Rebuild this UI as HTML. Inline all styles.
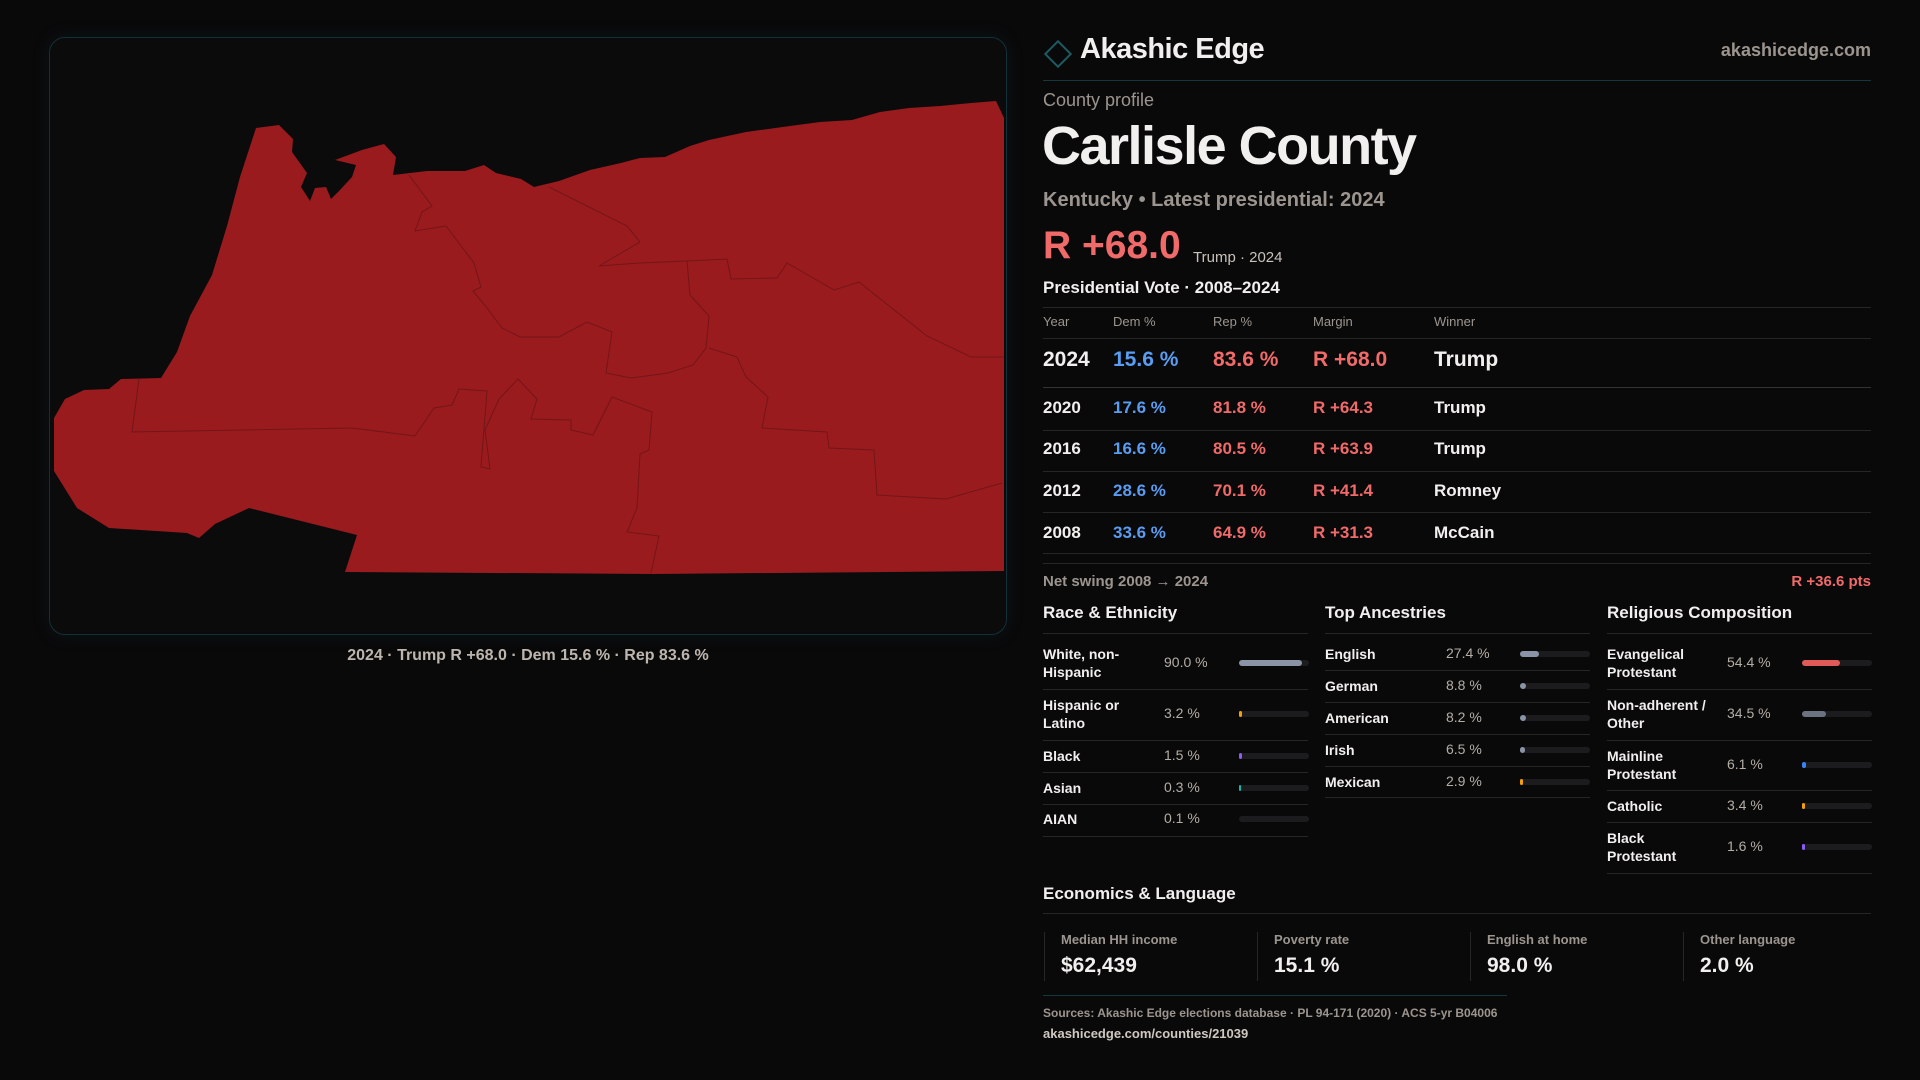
<!DOCTYPE html>
<html><head><meta charset="utf-8">
<style>
*{margin:0;padding:0;box-sizing:border-box}
body{width:1920px;height:1080px;background:#0a090a;font-family:"Liberation Sans",sans-serif;color:#f2f0ee;position:relative;overflow:hidden}
.a{position:absolute;white-space:nowrap}
.g{color:#9c958f}
.line{position:absolute;height:1px;background:#262626}
.hdr{font-size:13px;color:#9c958f}
.row{font-size:17px;font-weight:bold}
.dem{color:#5a9cf2}.rep{color:#f06a6a}
.sec{font-size:17px;font-weight:bold}
.lbl{font-size:14px;font-weight:bold;line-height:18px}
.val{font-size:14px;color:#b4ada6}
.card{position:absolute;top:932px;height:49px;border-left:1px solid #262626}
</style></head><body>
<div class="a" style="left:49px;top:37px;width:958px;height:598px;border:1px solid #123038;border-radius:16px;background:#0b0b0c;box-shadow:0 0 18px rgba(20,80,100,0.15)"></div>
<svg class="a" style="left:0;top:0" width="1010" height="640">
<polygon fill="#991b1e" points="256,128 279,125 293,139 292,152 307,173 301,187 310,201 315,188 326,187 331,199 339,191 352,177 356,165 335,160 362,150 384,144 396,157 393,175 427,171 465,171 484,165 496,173 521,179 534,187 559,181 590,170 621,163 640,158 665,157 690,146 709,140 746,132 790,126 820,122 852,120 880,112 909,108 940,106 971,103 996,101 1004,118 1004,571 652,574 345,572 357,535 249,508 215,524 199,538 187,533 109,528 77,508 54,471 54,418 65,399 84,390 109,389 121,379 161,378 177,352 190,316 212,275 227,226 240,177"/>
<g fill="none" stroke="#741518" stroke-width="1">
<polyline points="409,175 432,206 422,212 415,231 446,226 474,263 481,287 473,291 487,308 502,328 520,337 559,337 587,322 612,332 606,373 631,378 668,373 693,365 706,348 709,316 690,295 687,261 640,263 599,266 640,242 627,226 549,187"/>
<polyline points="687,261 727,259 731,279 777,278 787,263 834,290 859,282 927,336 971,357 1004,357"/>
<polyline points="709,348 737,357 746,377 768,397 762,428 827,432 829,448 874,450 877,495 946,499 1002,483"/>
<polyline points="139,379 132,432 352,428 415,436 434,408 452,405 459,389 487,391 481,467 490,469 485,430 499,399 518,379 537,399 531,419 571,420 571,430 593,435 612,397 652,412 649,450 640,454 637,508 627,532 659,536 651,573"/>
</g></svg>
<div class="a" style="left:0;width:1056px;text-align:center;top:647px;font-size:16px;font-weight:bold;color:#bdb6af">2024 · Trump R +68.0 · Dem 15.6 % · Rep 83.6 %</div>

<div class="a" style="left:1048px;top:44px;width:20px;height:20px;border:2px solid #1d5a62;transform:rotate(45deg)"></div>
<div class="a" style="left:1080px;top:33px;font-size:29px;font-weight:bold;letter-spacing:-0.5px">Akashic Edge</div>
<div class="a g" style="right:49px;top:40px;font-size:18px;font-weight:bold">akashicedge.com</div>
<div class="line" style="left:1043px;width:828px;top:80px;background:#15383f"></div>
<div class="a g" style="left:1043px;top:90px;font-size:18px">County profile</div>
<div class="a" style="left:1042px;top:115px;font-size:54px;font-weight:bold;letter-spacing:-1.5px">Carlisle County</div>
<div class="a g" style="left:1043px;top:189px;font-size:20px;font-weight:bold">Kentucky • Latest presidential: 2024</div>
<div class="a rep" style="left:1043px;top:224px;font-size:39px;font-weight:bold">R +68.0</div>
<div class="a" style="left:1193px;top:249px;font-size:15px;color:#c9c2bb">Trump · 2024</div>
<div class="a" style="left:1043px;top:278px;font-size:17px;font-weight:bold">Presidential Vote · 2008–2024</div>
<div class="line" style="left:1043px;width:828px;top:307px"></div>
<div class="a hdr" style="left:1043px;top:314px">Year</div>
<div class="a hdr" style="left:1113px;top:314px">Dem %</div>
<div class="a hdr" style="left:1213px;top:314px">Rep %</div>
<div class="a hdr" style="left:1313px;top:314px">Margin</div>
<div class="a hdr" style="left:1434px;top:314px">Winner</div>
<div class="line" style="left:1043px;width:828px;top:338px"></div>
<div id="rows"></div>
<div class="line" style="left:1043px;width:828px;top:563px"></div>
<div class="a g" style="left:1043px;top:573px;font-size:15px;font-weight:bold">Net swing 2008 → 2024</div>
<div class="a rep" style="right:49px;top:573px;font-size:15px;font-weight:bold">R +36.6 pts</div>
<div id="sections"></div>
<div class="a sec" style="left:1043px;top:884px">Economics &amp; Language</div>
<div class="line" style="left:1043px;width:828px;top:913px"></div>
<div id="cards"></div>
<div class="line" style="left:1043px;width:464px;top:995px;background:#15383f"></div>
<div class="a g" style="left:1043px;top:1006px;font-size:12px;font-weight:bold">Sources: Akashic Edge elections database · PL 94-171 (2020) · ACS 5-yr B04006</div>
<div class="a" style="left:1043px;top:1026px;font-size:13px;font-weight:bold;color:#cfc8c1">akashicedge.com/counties/21039</div>
<script>
const years=["2024","2020","2016","2012","2008"];
const demPct=[15.6,17.6,16.6,28.6,33.6];
const repPct=[83.6,81.8,80.5,70.1,64.9];
const marginVals=[68.0,64.3,63.9,41.4,31.3];
const winners=["Trump","Trump","Trump","Romney","McCain"];
const raceLabels=["White, non-<br>Hispanic","Hispanic or<br>Latino","Black","Asian","AIAN"];
const raceValues=[90.0,3.2,1.5,0.3,0.1];
const ancLabels=["English","German","American","Irish","Mexican"];
const ancValues=[27.4,8.8,8.2,6.5,2.9];
const relLabels=["Evangelical<br>Protestant","Non-adherent /<br>Other","Mainline<br>Protestant","Catholic","Black<br>Protestant"];
const relValues=[54.4,34.5,6.1,3.4,1.6];
const econLabels=["Median HH income","Poverty rate","English at home","Other language"];
const econValues=["$62,439","15.1 %","98.0 %","2.0 %"];

const rowsEl=document.getElementById('rows');
const rowCenters=[361,408,449,491,533];
const rowLines=[387,430,471,512,553];
years.forEach((y,i)=>{
  const big=i===0; const fs=big?21:17; const top=rowCenters[i]-fs*0.6;
  const cells=[[y,1043,''],[demPct[i].toFixed(1)+' %',1113,'dem'],[repPct[i].toFixed(1)+' %',1213,'rep'],['R +'+marginVals[i].toFixed(1),1313,'rep'],[winners[i],1434,'']];
  cells.forEach((c,j)=>{const d=document.createElement('div');
    d.className='a row '+c[2];d.style.left=c[1]+'px';d.style.top=top+'px';d.style.fontSize=fs+'px';d.textContent=c[0];
    
    
    rowsEl.appendChild(d);});
  const l=document.createElement('div');l.className='line';l.style.left='1043px';l.style.width='828px';l.style.top=rowLines[i]+'px';
  if(big)l.style.background='#333';
  
  
  rowsEl.appendChild(l);
});

const secEl=document.getElementById('sections');
function section(title,x,labels,values,colors,centers,seps,valX,barX,key){
  const t=document.createElement('div');t.className='a sec';t.style.left=x+'px';t.style.top='603px';t.textContent=title;
  
  
  secEl.appendChild(t);
  seps.forEach(s=>{const l=document.createElement('div');l.className='line';l.style.left=x+'px';l.style.width='265px';l.style.top=s+'px';
    
    
    secEl.appendChild(l);});
  labels.forEach((lab,i)=>{
    const c=centers[i];const two=lab.includes('<br>');
    const d=document.createElement('div');d.className='a lbl';d.style.left=x+'px';d.style.top=(c-(two?18:9))+'px';d.innerHTML=lab;
    
    
    secEl.appendChild(d);
    const v=document.createElement('div');v.className='a val';v.style.left=valX+'px';v.style.top=(c-9)+'px';v.textContent=values[i].toFixed(1)+' %';
    
    
    secEl.appendChild(v);
    const tr=document.createElement('div');tr.className='a';tr.style.cssText=`left:${barX}px;top:${c-3}px;width:70px;height:6px;border-radius:3px;background:#1c1c1e`;
    
    
    secEl.appendChild(tr);
    const w=Math.max(70*values[i]/100,values[i]>=1?3:1.5);
    const b=document.createElement('div');b.className='a';b.style.cssText=`left:${barX}px;top:${c-3}px;width:${w}px;height:6px;border-radius:3px;background:${colors[i]}`;
    if(values[i]<0.2)b.style.opacity='0';
    
    
    secEl.appendChild(b);
  });
}
section('Race & Ethnicity',1043,raceLabels,raceValues,['#8a94a6','#f59e0b','#8b5cf6','#14b8a6','#666'],[663,714,756,788,819],[633,689,740,772,804,836],1164,1239,'race');
section('Top Ancestries',1325,ancLabels,ancValues,['#8a94a6','#8a94a6','#8a94a6','#8a94a6','#f59e0b'],[654,686,718,750,782],[633,670,702,734,766,797],1446,1520,'ancestry');
section('Religious Composition',1607,relLabels,relValues,['#e05a5a','#6b7280','#3b82f6','#f59e0b','#8b5cf6'],[663,714,765,806,847],[633,689,740,790,822,873],1727,1802,'religion');

const cardsEl=document.getElementById('cards');
econLabels.forEach((lab,i)=>{
  const c=document.createElement('div');c.className='card';c.style.left=(1044+i*213)+'px';c.style.width='213px';
  c.innerHTML=`<div class="a g" style="left:16px;top:0;font-size:13px;font-weight:bold">${lab}</div><div class="a" style="left:16px;top:22px;font-size:21px;font-weight:bold">${econValues[i]}</div>`;
  
  
  cardsEl.appendChild(c);
});
</script>
</body></html>
